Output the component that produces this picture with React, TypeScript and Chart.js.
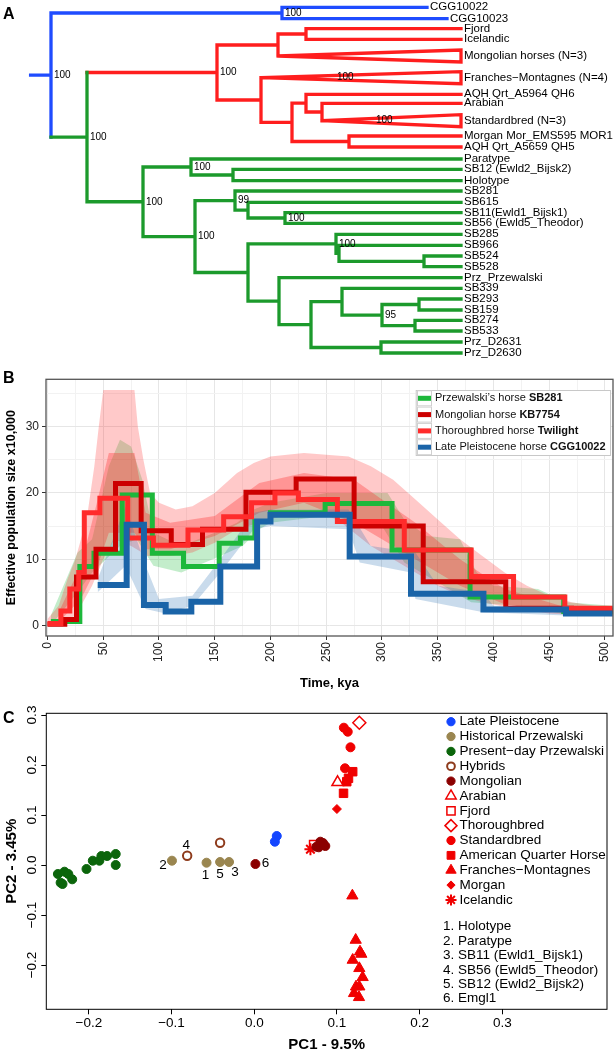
import React, { useEffect, useRef } from 'react';
import { Chart, registerables } from 'chart.js';
import { drawPoint } from 'chart.js/helpers';

Chart.register(...registerables);

const FONT = '"Liberation Sans", Arimo, Arial, Helvetica, sans-serif';

// ===================== Panel A : phylogeny =====================
const tipNames = [
  'CGG10022', 'CGG10023', 'Fjord', 'Icelandic', 'Mongolian horses (N=3)',
  'Franches\u2212Montagnes (N=4)', 'AQH Qrt_A5964 QH6', 'Arabian', 'Standardbred (N=3)',
  'Morgan Mor_EMS595 MOR1', 'AQH Qrt_A5659 QH5', 'Paratype', 'SB12 (Ewld2_Bijsk2)', 'Holotype',
  'SB281', 'SB615', 'SB11(Ewld1_Bijsk1)', 'SB56 (Ewld5_Theodor)', 'SB285', 'SB966', 'SB524',
  'SB528', 'Prz_Przewalski', 'SB339', 'SB293', 'SB159', 'SB274', 'SB533', 'Prz_D2631', 'Prz_D2630',
];
// vertical position of each tip (rows, top = 0)
const tipRows = [
  7.3, 18.7, 28.7, 39.3, 56, 77.7, 94.3, 103.3, 120.7, 136, 147, 159, 169.3, 180.7, 191,
  202.3, 212.7, 223.3, 234.3, 245.3, 256, 266.7, 277.7, 288.3, 299, 310, 320.3, 331, 342, 353,
];
// horizontal depth reached by each tip
const tipDepth = [
  427, 447, 461, 461, 461, 461, 461, 461, 461, 461, 461, 461, 461, 461, 461,
  461, 461, 461, 461, 461, 461, 461, 461, 461, 461, 461, 461, 461, 461, 461,
];
const collapsedTips = [4, 5, 8];
const collapsedHalf = 6;
const collapsedSupport: [number, string, number][] = [[5, '100', 337], [8, '100', 376]];
const rootStubStart = 30.6;

type TNode = { d: number; k: string; s?: string; c: (TNode | number)[] };
const treeRoot: TNode = {
  d: 51, k: 'b', s: '100', c: [
    { d: 282, k: 'b', s: '100', c: [0, 1] },
    {
      d: 87, k: 'g', s: '100', c: [
        {
          d: 217, k: 'r', s: '100', c: [
            { d: 278, k: 'r', c: [{ d: 306, k: 'r', c: [2, 3] }, 4] },
            {
              d: 261, k: 'r', c: [5, {
                d: 292, k: 'r', c: [
                  { d: 306, k: 'r', c: [6, { d: 322, k: 'r', c: [7, 8] }] },
                  { d: 349, k: 'r', c: [9, 10] },
                ],
              }],
            },
          ],
        },
        {
          d: 143, k: 'g', s: '100', c: [
            { d: 191, k: 'g', s: '100', c: [11, { d: 233, k: 'g', c: [12, 13] }] },
            {
              d: 195, k: 'g', s: '100', c: [
                { d: 235, k: 'g', s: '99', c: [14, { d: 248, k: 'g', c: [15, { d: 285, k: 'g', s: '100', c: [16, 17] }] }] },
                {
                  d: 248, k: 'g', c: [
                    { d: 336, k: 'g', s: '100', c: [18, { d: 339, k: 'g', c: [19, { d: 424, k: 'g', c: [20, 21] }] }] },
                    {
                      d: 279, k: 'g', c: [22, {
                        d: 311, k: 'g', c: [
                          { d: 342, k: 'g', c: [23, { d: 382, k: 'g', s: '95', c: [{ d: 419, k: 'g', c: [24, 25] }, { d: 415, k: 'g', c: [26, 27] }] }] },
                          { d: 381, k: 'g', c: [28, 29] },
                        ],
                      }],
                    },
                  ],
                },
              ],
            },
          ],
        },
      ],
    },
  ],
};
const cladeColors: Record<string, string> = { b: '#1F4CFF', r: '#FF1E1E', g: '#1C9A2C' };

// ===================== Panel B : PSMC =====================
const psmcTimeSB281 = [3, 29, 41.7, 67, 94, 122, 154, 173, 186, 200, 249, 309, 379, 463, 507];
const psmcNeSB281 = [0.6, 8.9, 10.9, 19.7, 10.9, 8.9, 12.4, 13.2, 15.7, 17, 18.4, 11.4, 4.3, 2.1, 2.1];
const psmcTimeKB7754 = [0, 15.5, 26, 43.5, 61, 84, 111, 139, 178, 223, 275, 337, 411, 470, 507];
const psmcNeKB7754 = [0.2, 0.9, 7.3, 11.5, 21.4, 14.3, 12.2, 14.5, 20.1, 22.1, 15, 6.6, 2.6, 2.3, 2.3];
const psmcTimeTwilight = [0, 12, 20, 28, 33, 47, 72, 95, 126, 158, 183, 204, 225, 260, 320, 380, 418, 464, 507];
const psmcNeTwilight = [0.3, 2.2, 5.5, 8, 17, 19.2, 13.2, 12.1, 14.4, 16.4, 18.5, 20, 19, 15.7, 11.4, 7.4, 4.3, 2.6, 2.6];
const psmcTimeCGG = [45, 71, 86.5, 106, 129, 155, 188, 200, 271, 326, 391, 465, 507];
const psmcNeCGG = [6.1, 15.2, 3.1, 2.1, 3.6, 8.9, 15.7, 16.7, 10.4, 4.8, 2.4, 1.8, 1.8];

// bootstrap spread (outer upper / lower envelopes, and a denser core)
const bootRedTimeHi = [0, 10, 18, 25, 30, 36, 42, 46, 50, 78, 81, 86, 92, 100, 115, 130, 150, 170, 185, 200, 230, 270, 290, 310, 330, 350, 370, 390, 410, 430, 450, 470, 490, 507];
const bootRedNeHi = [1, 3, 7, 10, 13, 17, 24, 30, 35.5, 35.5, 30, 25, 20, 18.5, 17.5, 18, 20, 23, 24.5, 25.5, 26, 25.5, 24, 22, 19, 16, 13, 10.5, 8, 6, 4.5, 3.5, 3, 2.8];
const bootRedTimeLo = [0, 20, 30, 40, 50, 60, 75, 90, 110, 130, 150, 170, 190, 210, 240, 260, 275, 290, 310, 330, 350, 370, 390, 420, 450, 480, 507];
const bootRedNeLo = [0, 0.5, 3, 6, 10, 13, 12, 10.5, 10.5, 11, 12.5, 14.5, 15.5, 16.5, 17, 16, 14, 12, 10, 8, 6, 4.5, 3.5, 2.5, 1.8, 1.5, 1.4];
const bootRedCoreTimeHi = [10, 30, 45, 55, 78, 88, 110, 150, 190, 230, 275, 300, 330, 370, 410, 460, 507];
const bootRedCoreNeHi = [2, 9, 19, 26, 26, 17, 15.5, 16.5, 21.5, 23, 22, 19, 15.5, 10, 5.5, 3, 2.6];
const bootRedCoreTimeLo = [10, 30, 45, 55, 78, 88, 110, 150, 190, 230, 275, 300, 330, 370, 410, 460, 507];
const bootRedCoreNeLo = [0.5, 4, 9, 14, 14, 11.5, 11.5, 13.5, 17, 18.5, 15.5, 13, 10, 6, 3.2, 2, 1.8];
const bootGreenTimeHi = [3, 27, 40, 55, 65, 75, 85, 95, 120, 150, 170, 185, 200, 250, 305, 320, 340, 370, 385, 400, 440, 465, 507];
const bootGreenNeHi = [1.5, 11, 13, 24, 28, 27, 22, 14, 12, 14, 15.5, 17.5, 18.5, 20, 20, 16, 13.5, 13, 8, 6, 5.5, 3.5, 3];
const bootGreenTimeLo = [3, 27, 40, 65, 80, 95, 120, 155, 175, 190, 200, 250, 300, 320, 380, 420, 465, 507];
const bootGreenNeLo = [0, 5, 8, 12, 13, 9, 8, 10.5, 12, 14.5, 15.5, 16.5, 15, 9.5, 3.5, 3, 1.7, 1.6];
const bootCGGTimeHi = [45, 70, 88, 100, 130, 155, 185, 200, 270, 290, 330, 350, 390, 400, 465, 507];
const bootCGGNeHi = [7, 18, 9, 4, 4.5, 10, 17, 17.5, 17.5, 12, 11, 6, 5, 3, 2.5, 2.3];
const bootCGGTimeLo = [45, 70, 88, 106, 130, 155, 185, 200, 270, 280, 326, 330, 391, 465, 507];
const bootCGGNeLo = [5, 9, 2.5, 1.8, 3, 8, 14.5, 15, 14.5, 9.5, 8, 4, 2, 1.5, 1.5];

const timeTicks = [0, 25, 50, 75, 100, 125, 150, 175, 200, 225, 250, 275, 300, 325, 350, 375, 400, 425, 450, 475, 500];
const neTicks = [0, 5, 10, 15, 20, 25, 30, 35];

const psmcLegend: [string, string, string][] = [
  ['Przewalski\u2019s horse ', 'SB281', '#1DB83B'],
  ['Mongolian horse ', 'KB7754', '#CC0000'],
  ['Thoroughbred horse ', 'Twilight', '#FF2B2B'],
  ['Late Pleistocene horse ', 'CGG10022', '#1A64A8'],
];

// ===================== Panel C : PCA =====================
const pcLateX = [0.0272, 0.0249];
const pcLateY = [0.058, 0.0466];
const pcHistX = [-0.0995, -0.0577, -0.0413, -0.0305];
const pcHistY = [0.0086, 0.0046, 0.006, 0.006];
const pcPresentX = [-0.2374, -0.2294, -0.2248, -0.2201, -0.2341, -0.2318, -0.2028, -0.1952, -0.1872, -0.1848, -0.1779, -0.1675, -0.1675];
const pcPresentY = [-0.018, -0.0134, -0.018, -0.0286, -0.0354, -0.038, -0.008, 0.0086, 0.0086, 0.018, 0.018, 0.022, 0.0];
const pcHybridX = [-0.0811, -0.0413];
const pcHybridY = [0.0186, 0.0446];
const pcMongolX = [0.0014, 0.0751, 0.0799, 0.0859, 0.078, 0.0831];
const pcMongolY = [0.002, 0.0366, 0.0466, 0.038, 0.0354, 0.044];
const pcArabianX = [0.1007];
const pcArabianY = [0.1654];
const pcFjordX = [0.0722];
const pcFjordY = [0.04];
const pcThoroughX = [0.127];
const pcThoroughY = [0.2846];
const pcStandardX = [0.1083, 0.113, 0.1163, 0.1097];
const pcStandardY = [0.2746, 0.2666, 0.2354, 0.1934];
const pcAqhX = [0.119, 0.1139, 0.1118, 0.1079];
const pcAqhY = [0.1866, 0.1734, 0.1666, 0.1434];
const pcFmX = [0.1186, 0.1226, 0.1278, 0.1294, 0.119, 0.127, 0.131, 0.123, 0.127, 0.1206, 0.1266];
const pcFmY = [-0.0614, -0.15, -0.1734, -0.178, -0.19, -0.2066, -0.2246, -0.2434, -0.2434, -0.2566, -0.2646];
const pcMorganX = [0.0999];
const pcMorganY = [0.112];
const pcIcelandicX = [0.0679];
const pcIcelandicY = [0.0314];

const pcTicks = [-0.2, -0.1, 0, 0.1, 0.2, 0.3];
const pcSampleKey = ['1. Holotype', '2. Paratype', '3. SB11 (Ewld1_Bijsk1)', '4. SB56 (Ewld5_Theodor)', '5. SB12 (Ewld2_Bijsk2)', '6. Emgl1'];

type Group = { name: string; x: number[]; y: number[]; color: string; style: string; r: number; fill: boolean; bw: number };
const pcGroups: Group[] = [
  { name: 'Late Pleistocene', x: pcLateX, y: pcLateY, color: '#1446FF', style: 'circle', r: 4.5, fill: true, bw: 1 },
  { name: 'Historical Przewalski', x: pcHistX, y: pcHistY, color: '#9A8650', style: 'circle', r: 4.5, fill: true, bw: 1 },
  { name: 'Present\u2212day Przewalski', x: pcPresentX, y: pcPresentY, color: '#0B650B', style: 'circle', r: 4.5, fill: true, bw: 1 },
  { name: 'Hybrids', x: pcHybridX, y: pcHybridY, color: '#8E3B1C', style: 'circle', r: 4.2, fill: false, bw: 2 },
  { name: 'Mongolian', x: pcMongolX, y: pcMongolY, color: '#8B0000', style: 'circle', r: 4.5, fill: true, bw: 1 },
  { name: 'Arabian', x: pcArabianX, y: pcArabianY, color: '#F00000', style: 'triangle', r: 6.5, fill: false, bw: 1.5 },
  { name: 'Fjord', x: pcFjordX, y: pcFjordY, color: '#F00000', style: 'rect', r: 6.3, fill: false, bw: 1.5 },
  { name: 'Thoroughbred', x: pcThoroughX, y: pcThoroughY, color: '#F00000', style: 'rectRot', r: 6.5, fill: false, bw: 1.5 },
  { name: 'Standardbred', x: pcStandardX, y: pcStandardY, color: '#F00000', style: 'circle', r: 4.5, fill: true, bw: 1 },
  { name: 'American Quarter Horse', x: pcAqhX, y: pcAqhY, color: '#F00000', style: 'rect', r: 6, fill: true, bw: 1 },
  { name: 'Franches\u2212Montagnes', x: pcFmX, y: pcFmY, color: '#F00000', style: 'triangle', r: 6.5, fill: true, bw: 1 },
  { name: 'Morgan', x: pcMorganX, y: pcMorganY, color: '#F00000', style: 'rectRot', r: 4.5, fill: true, bw: 1 },
  { name: 'Icelandic', x: pcIcelandicX, y: pcIcelandicY, color: '#F00000', style: 'star', r: 6, fill: false, bw: 2 },
];
// numbered sample tags: group index, point index, text, pixel offset
const pcTags: [number, number, string, number, number][] = [
  [1, 0, '2', -9, 5], [1, 1, '1', -1, 12.5], [1, 2, '5', 0, 12.5], [1, 3, '3', 6, 10.5],
  [3, 0, '4', -1, -10], [4, 0, '6', 10, -0.5],
];

// ===================== helpers =====================
const pts = (xs: number[], ys: number[]) => xs.map((x, i) => ({ x, y: ys[i] }));

function buildTree() {
  const segs: { k: string; p: { x: number; y: number }[] }[] = [];
  const supports: { x: number; y: number; t: string }[] = [];
  const walk = (node: TNode): number => {
    const ys = node.c.map((ch) => {
      if (typeof ch === 'number') {
        const y = tipRows[ch];
        const tx = tipDepth[ch];
        if (collapsedTips.includes(ch)) {
          segs.push({ k: node.k, p: [{ x: node.d, y }, { x: tx, y: y - collapsedHalf }, { x: tx, y: y + collapsedHalf }, { x: node.d, y }] });
        } else {
          segs.push({ k: node.k, p: [{ x: node.d, y }, { x: tx, y }] });
        }
        return y;
      }
      const y = walk(ch);
      segs.push({ k: ch.k, p: [{ x: node.d, y }, { x: ch.d, y }] });
      return y;
    });
    const y0 = ys[0];
    const y1 = ys[ys.length - 1];
    segs.push({ k: node.k, p: [{ x: node.d, y: y0 }, { x: node.d, y: y1 }] });
    const y = (y0 + y1) / 2;
    if (node.s) supports.push({ x: node.d, y, t: node.s });
    return y;
  };
  const ry = walk(treeRoot);
  segs.push({ k: treeRoot.k, p: [{ x: rootStubStart, y: ry }, { x: treeRoot.d, y: ry }] });
  return { segs, supports };
}

function makeTree(): any {
  const { segs, supports } = buildTree();
  const datasets = ['g', 'r', 'b'].map((k) => {
    const data: any[] = [];
    segs.filter((s) => s.k === k).forEach((s) => {
      data.push(...s.p);
      data.push({ x: null, y: null });
    });
    return {
      data, showLine: true, spanGaps: false, borderColor: cladeColors[k], borderWidth: 3.3,
      pointRadius: 0, borderCapStyle: 'square', borderJoinStyle: 'miter', fill: false,
    };
  });
  const labels = {
    id: 'treeLabels',
    afterDatasetsDraw(chart: any) {
      const { ctx, scales: { x, y } } = chart;
      ctx.save();
      ctx.fillStyle = '#000';
      ctx.textBaseline = 'middle';
      ctx.textAlign = 'left';
      ctx.font = `11.5px ${FONT}`;
      tipNames.forEach((n, i) => ctx.fillText(n, x.getPixelForValue(tipDepth[i]) + 3, y.getPixelForValue(tipRows[i])));
      ctx.font = `10px ${FONT}`;
      supports.forEach((s) => ctx.fillText(s.t, x.getPixelForValue(s.x) + 3, y.getPixelForValue(s.y)));
      collapsedSupport.forEach(([i, t, d]) => ctx.fillText(t, x.getPixelForValue(d), y.getPixelForValue(tipRows[i])));
      ctx.restore();
    },
  };
  return {
    type: 'scatter',
    data: { datasets },
    options: {
      animation: false, responsive: false, devicePixelRatio: 1,
      layout: { padding: 0 },
      plugins: { legend: { display: false }, tooltip: { enabled: false } },
      scales: {
        x: { type: 'linear', min: 0, max: 615, display: false },
        y: { type: 'linear', min: 0, max: 362, reverse: true, display: false },
      },
    },
    plugins: [labels],
  };
}

function makePsmc(): any {
  const main = (xs: number[], ys: number[], color: string, w: number) => ({
    data: pts(xs, ys), borderColor: color, borderWidth: w, stepped: true, pointRadius: 0, fill: false,
    borderJoinStyle: 'miter',
  });
  const env = (xs: number[], ys: number[], color: string, fill: any) => ({
    data: pts(xs, ys), borderColor: 'rgba(0,0,0,0)', borderWidth: 1, pointRadius: 0,
    backgroundColor: color, fill, tension: 0,
  });
  const datasets = [
    main(psmcTimeCGG, psmcNeCGG, '#1A64A8', 6),
    main(psmcTimeTwilight, psmcNeTwilight, '#FF2B2B', 5),
    main(psmcTimeKB7754, psmcNeKB7754, '#CC0000', 5),
    main(psmcTimeSB281, psmcNeSB281, '#1DB83B', 5),
    env(bootCGGTimeHi, bootCGGNeHi, 'rgba(40,110,180,0.25)', false),
    env(bootCGGTimeLo, bootCGGNeLo, 'rgba(40,110,180,0.25)', '-1'),
    env(bootRedCoreTimeHi, bootRedCoreNeHi, 'rgba(255,30,30,0.3)', false),
    env(bootRedCoreTimeLo, bootRedCoreNeLo, 'rgba(255,30,30,0.3)', '-1'),
    env(bootRedTimeHi, bootRedNeHi, 'rgba(255,40,40,0.25)', false),
    env(bootRedTimeLo, bootRedNeLo, 'rgba(255,40,40,0.25)', '-1'),
    env(bootGreenTimeHi, bootGreenNeHi, 'rgba(40,190,70,0.28)', false),
    env(bootGreenTimeLo, bootGreenNeLo, 'rgba(40,190,70,0.28)', '-1'),
  ];
  const frame = {
    id: 'frameB',
    afterDatasetsDraw(chart: any) {
      const { ctx, chartArea: a } = chart;
      ctx.save();
      ctx.strokeStyle = '#555';
      ctx.lineWidth = 1.3;
      ctx.strokeRect(a.left, a.top, a.right - a.left, a.bottom - a.top);
      // legend
      const lx = 415.7, ly = 28, lw = 194.3, lh = 65;
      ctx.fillStyle = '#fff';
      ctx.fillRect(lx, ly, lw, lh);
      ctx.strokeStyle = '#C8C8C8';
      ctx.lineWidth = 1;
      ctx.strokeRect(lx + 0.5, ly + 0.5, lw, lh);
      psmcLegend.forEach(([t, b, c], i) => {
        const cy = 36.3 + i * 16.3;
        ctx.strokeStyle = '#D0D0D0';
        ctx.strokeRect(417.5, cy - 7.5, 14, 15);
        ctx.fillStyle = c;
        ctx.fillRect(418, cy - 2.5, 13, 5);
        ctx.fillStyle = '#111';
        ctx.textBaseline = 'middle';
        ctx.textAlign = 'left';
        ctx.font = `11px ${FONT}`;
        ctx.fillText(t, 435, cy);
        const w = ctx.measureText(t).width;
        ctx.font = `bold 11px ${FONT}`;
        ctx.fillText(b, 435 + w, cy);
      });
      ctx.restore();
    },
  };
  const tickCol = (major: number) => (c: any) => (c.tick && c.tick.value % major === 0 ? '#333' : 'rgba(0,0,0,0)');
  const gridCol = (major: number) => (c: any) => (c.tick && c.tick.value % major === 0 ? '#E6E6E6' : '#F2F2F2');
  return {
    type: 'line',
    data: { datasets },
    options: {
      animation: false, responsive: false, devicePixelRatio: 1,
      layout: { padding: { top: 17.3, right: 2, left: 0, bottom: 0 } },
      plugins: { legend: { display: false }, tooltip: { enabled: false } },
      scales: {
        x: {
          type: 'linear', min: -1.35, max: 507.2,
          afterBuildTicks: (s: any) => { s.ticks = timeTicks.map((v) => ({ value: v })); },
          afterFit: (s: any) => { s.height = 66; s.paddingLeft = 0; s.paddingRight = 0; },
          ticks: {
            autoSkip: false, minRotation: 90, maxRotation: 90, padding: 2, color: '#222',
            font: { family: FONT, size: 12 }, callback: (v: number) => (v % 50 === 0 ? String(v) : ''),
          },
          grid: { color: gridCol(50), tickColor: tickCol(50), tickLength: 4, lineWidth: 1 },
          border: { display: false },
          title: { display: true, text: 'Time, kya', color: '#000', font: { family: FONT, size: 13, weight: 'bold' }, padding: { top: 0, bottom: 11 } },
        },
        y: {
          type: 'linear', min: -1.58, max: 37.13,
          afterBuildTicks: (s: any) => { s.ticks = neTicks.map((v) => ({ value: v })); },
          afterFit: (s: any) => { s.width = 46; s.paddingTop = 0; s.paddingBottom = 0; },
          ticks: {
            padding: 3, color: '#222', font: { family: FONT, size: 12 },
            callback: (v: number) => (v % 10 === 0 ? String(v) : ''),
          },
          grid: { color: gridCol(10), tickColor: tickCol(10), tickLength: 4, lineWidth: 1 },
          border: { display: false },
          title: { display: true, text: 'Effective population size x10,000', color: '#000', font: { family: FONT, size: 12.5, weight: 'bold' }, padding: { top: 4, bottom: 0 } },
        },
      },
    },
    plugins: [frame],
  };
}

function makePca(): any {
  const datasets = pcGroups.map((g) => ({
    data: pts(g.x, g.y), pointStyle: g.style, pointRadius: g.r, borderWidth: g.bw,
    borderColor: g.color, backgroundColor: g.fill ? g.color : 'rgba(0,0,0,0)', showLine: false,
  }));
  const fmt = (v: number) => (v < -1e-9 ? '\u2212' : '') + Math.abs(v).toFixed(1);
  const deco = {
    id: 'decoC',
    afterDatasetsDraw(chart: any) {
      const { ctx, chartArea: a, scales: { x, y } } = chart;
      ctx.save();
      ctx.strokeStyle = '#000';
      ctx.lineWidth = 1;
      ctx.strokeRect(a.left, a.top, a.right - a.left, a.bottom - a.top);
      ctx.fillStyle = '#000';
      ctx.font = `13.5px ${FONT}`;
      ctx.textAlign = 'center';
      ctx.textBaseline = 'middle';
      pcTags.forEach(([gi, pi, t, dx, dy]) => {
        const g = pcGroups[gi];
        ctx.fillText(t, x.getPixelForValue(g.x[pi]) + dx, y.getPixelForValue(g.y[pi]) + dy);
      });
      // legend
      ctx.textAlign = 'left';
      pcGroups.forEach((g, i) => {
        const cy = 19.7 + i * 14.85;
        ctx.fillStyle = g.fill ? g.color : 'rgba(0,0,0,0)';
        ctx.strokeStyle = g.color;
        ctx.lineWidth = g.bw;
        drawPoint(ctx, { pointStyle: g.style, radius: g.r * 0.92, borderWidth: g.bw, rotation: 0 } as any, 451, cy);
        ctx.fillStyle = '#000';
        ctx.fillText(g.name, 459.5, cy);
      });
      pcSampleKey.forEach((t, i) => ctx.fillText(t, 443, 224.7 + i * 14.4));
      ctx.restore();
    },
  };
  return {
    type: 'scatter',
    data: { datasets },
    options: {
      animation: false, responsive: false, devicePixelRatio: 1,
      layout: { padding: { top: 11.3, right: 2, left: 0, bottom: 0 } },
      plugins: { legend: { display: false }, tooltip: { enabled: false } },
      scales: {
        x: {
          type: 'linear', min: -0.2514, max: 0.4264,
          afterBuildTicks: (s: any) => { s.ticks = pcTicks.map((v) => ({ value: v })); },
          afterFit: (s: any) => { s.height = 48.7; s.paddingLeft = 0; s.paddingRight = 0; },
          ticks: { autoSkip: false, maxRotation: 0, padding: 1, color: '#000', font: { family: FONT, size: 13.5 }, callback: (v: number) => fmt(v) },
          grid: { drawOnChartArea: false, tickLength: 5, tickColor: '#000' },
          border: { display: false },
          title: { display: true, text: 'PC1 - 9.5%', color: '#000', font: { family: FONT, size: 15, weight: 'bold' }, padding: { top: 0, bottom: 4 } },
        },
        y: {
          type: 'linear', min: -0.2886, max: 0.3034,
          afterBuildTicks: (s: any) => { s.ticks = pcTicks.map((v) => ({ value: v })); },
          afterFit: (s: any) => { s.width = 46.3; s.paddingTop = 0; s.paddingBottom = 0; },
          ticks: { minRotation: 90, maxRotation: 90, crossAlign: 'center', padding: -4, color: '#000', font: { family: FONT, size: 13.5 }, callback: (v: number) => fmt(v) },
          grid: { drawOnChartArea: false, tickLength: 5, tickColor: '#000' },
          border: { display: false },
          title: { display: true, text: 'PC2 - 3.45%', color: '#000', font: { family: FONT, size: 15, weight: 'bold' }, padding: { top: 3, bottom: 0 } },
        },
      },
    },
    plugins: [deco],
  };
}

function ChartBox({ top, height, make }: { top: number; height: number; make: () => any }) {
  const ref = useRef<HTMLCanvasElement>(null);
  useEffect(() => {
    const chart = new Chart(ref.current as HTMLCanvasElement, make());
    return () => chart.destroy();
  }, []);
  return (
    <canvas
      ref={ref}
      width={615}
      height={height}
      style={{ position: 'absolute', left: 0, top, width: 615, height }}
    />
  );
}

const letterStyle = (top: number): React.CSSProperties => ({
  position: 'absolute', left: 3, top, font: `bold 16px ${FONT}`, lineHeight: '16px', color: '#000',
});

export default function App() {
  return (
    <div style={{ position: 'absolute', left: 0, top: 0, width: 615, height: 1050, overflow: 'hidden', background: '#fff' }}>
      <ChartBox top={0} height={362} make={makeTree} />
      <ChartBox top={362} height={340} make={makePsmc} />
      <ChartBox top={702} height={356} make={makePca} />
      <div style={letterStyle(6)}>A</div>
      <div style={letterStyle(370)}>B</div>
      <div style={letterStyle(710)}>C</div>
    </div>
  );
}
